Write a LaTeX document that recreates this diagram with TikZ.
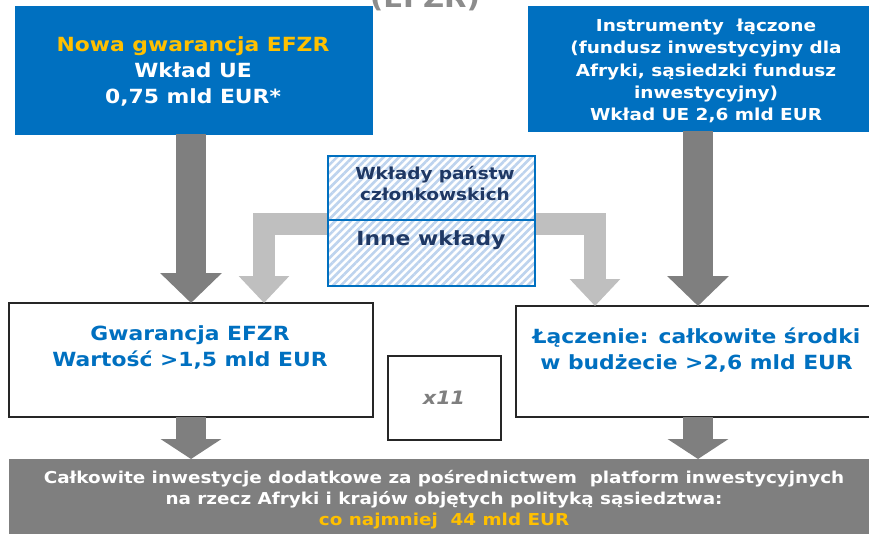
\documentclass[tikz,border=0pt]{standalone}
\usepackage{fontspec}
\newfontfamily\vb{DejaVu Sans}[FakeStretch=1.12]
\usetikzlibrary{arrows.meta,patterns.meta}
\definecolor{euBlue}{HTML}{0070C0}
\definecolor{euYellow}{HTML}{FFC000}
\definecolor{darkGrey}{HTML}{7F7F7F}
\definecolor{lightGrey}{HTML}{BFBFBF}
\definecolor{hatchBlue}{HTML}{BDD3EE}
\definecolor{navy}{HTML}{1F3864}
\definecolor{titleGrey}{HTML}{8C8C8C}
\tikzset{
  bluebox/.style={draw=euBlue, fill=euBlue, inner sep=0pt, outer sep=0pt},
  whitebox/.style={draw=black!85, line width=1.3pt, fill=white, inner sep=0pt, outer sep=0pt},
  greybox/.style={fill=darkGrey, inner sep=0pt, outer sep=0pt},
  txt/.style={align=center, inner sep=0pt, text=white},
  fsz/.style n args={2}{font=\vb\bfseries\fontsize{#1}{#2}\selectfont},
  darkarrow/.style={draw=darkGrey, line width=30pt, line cap=butt,
    -{Triangle[width=60pt,length=30pt]}},
  darkarrowshort/.style={draw=darkGrey, line width=30pt, line cap=butt,
    -{Triangle[width=60pt,length=20pt]}},
  lightarrow/.style={draw=lightGrey, line width=22pt, line cap=butt, line join=miter,
    -{Triangle[width=49pt,length=27pt]}},
}
\begin{document}
\begin{tikzpicture}[x=1pt,y=-1pt]
\useasboundingbox (0,0) rectangle (869,533);
% title (cut off at top)
\node[fsz={26}{30}, text=titleGrey, anchor=base, inner sep=0pt] (title) at (425,7) {(EFZR)};
% top boxes
\node[bluebox, minimum width=357pt, minimum height=128pt] (nga) at (193.5,70) {};
\node[txt, fsz={19.5}{26}] (ngat) at (193,71) {\textcolor{euYellow}{Nowa gwarancja EFZR}\\Wkład UE\\0,75 mld EUR*};
\node[bluebox, minimum width=340pt, minimum height=125pt] (ins) at (698,68.5) {};
\node[txt, fsz={16.5}{22.3}] (inst) at (706,71) {Instrumenty\ \ łączone\\(fundusz inwestycyjny dla\\Afryki, sąsiedzki fundusz\\inwestycyjny)\\Wkład UE 2,6 mld EUR};
% lower boxes
\node[whitebox, minimum width=364pt, minimum height=114pt] (gw) at (191,360) {};
\node[whitebox, minimum width=356pt, minimum height=111pt] (lac) at (694,361.5) {};
\node[whitebox, minimum width=113pt, minimum height=84pt] (x11) at (444.5,398) {};
\node[greybox, minimum width=863pt, minimum height=81pt] (tot) at (440.5,499.5) {};
% helper coordinates for the elbow arrows
\coordinate (barL) at (264,224);
\coordinate (barR) at (595,224);
% arrows
\draw[darkarrow] (nga.south -| gw.north) -- (gw.north);
\draw[darkarrow] (ins.south) -- (ins.south |- lac.north);
\draw[darkarrowshort] (gw.south) -- (gw.south |- tot.north);
\draw[darkarrowshort] (lac.south -| ins.south) -- (ins.south |- tot.north);
\draw[lightarrow] (barL -| 440,0) -- (barL) -- (barL |- gw.north);
\draw[lightarrow] (barR -| 430,0) -- (barR) -- (barR |- lac.north);
% hatched box
\node[minimum width=207pt, minimum height=130pt, inner sep=0pt, outer sep=0pt, fill=white] (hb) at (431.5,221) {};
\fill[pattern={Lines[angle=45,distance=5.5pt,line width=2.6pt]}, pattern color=hatchBlue] (hb.north west) rectangle (hb.south east);
\draw[euBlue, line width=2pt] (hb.north west) rectangle (hb.south east);
\coordinate (div) at (0,220);
\draw[euBlue, line width=2pt] (div -| hb.west) -- (div -| hb.east);
\node[txt, text=navy, fsz={16.5}{21}] (hbt) at (435,183.5) {Wkłady państw\\członkowskich};
\node[txt, text=navy, fsz={19.5}{24}] (hbb) at (431,240) {Inne wkłady};
% texts of lower boxes
\node[txt, text=euBlue, fsz={19.5}{26}] (gwt) at (190,347) {Gwarancja EFZR\\Wartość >1,5 mld EUR};
\node[txt, text=euBlue, fsz={19.5}{26}] (lact) at (696.5,350) {Łączenie: całkowite środki\\w budżecie >2,6 mld EUR};
\node[txt, text=darkGrey, font=\vb\bfseries\itshape\fontsize{18.5}{22}\selectfont] (x11t) at (444,398) {x11};
\node[txt, fsz={16.4}{21}] (tott) at (444,499.5) {Całkowite inwestycje dodatkowe za pośrednictwem\ \ platform inwestycyjnych\\na rzecz Afryki i krajów objętych polityką sąsiedztwa:\\\textcolor{euYellow}{co najmniej\ \ 44 mld EUR}};
\end{tikzpicture}
\end{document}
